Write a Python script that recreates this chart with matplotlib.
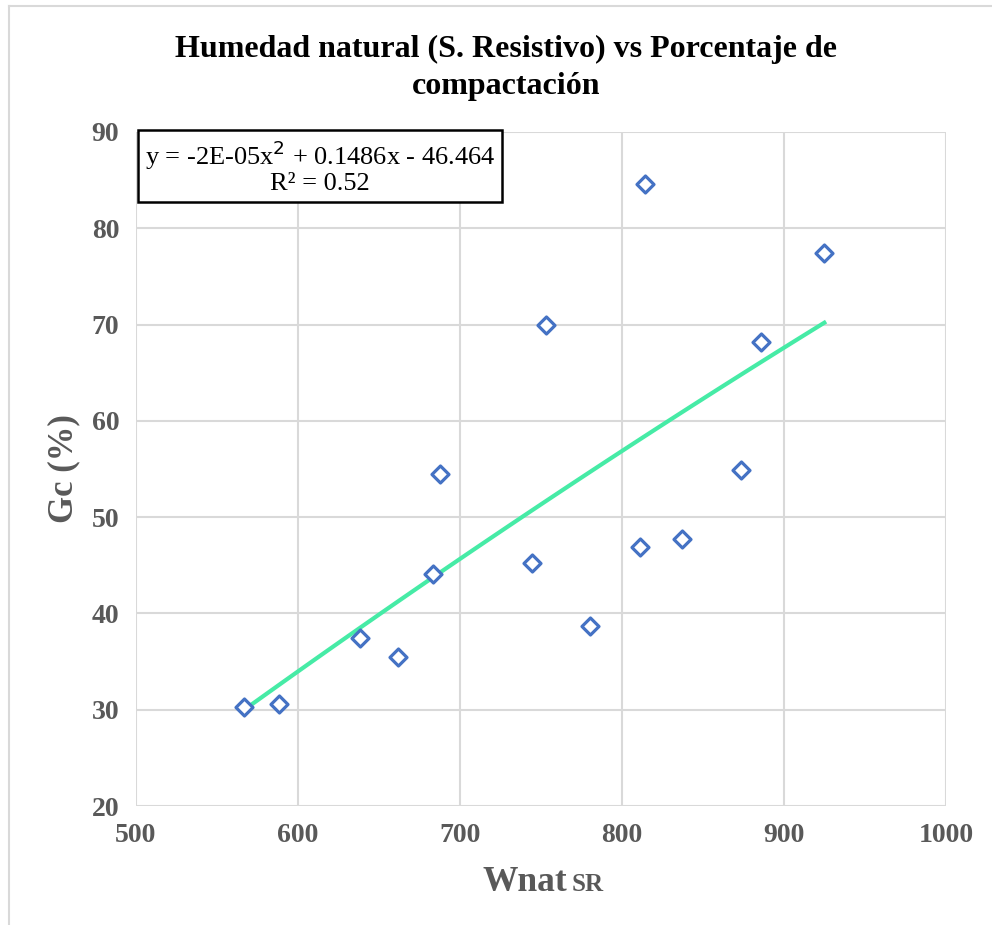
import numpy as np
import matplotlib
matplotlib.use('Agg')
import matplotlib.pyplot as plt
from matplotlib.lines import Line2D

plt.rcParams['font.family'] = ['Liberation Serif', 'DejaVu Serif']

# Data
wnat = [566.7, 588.3, 638.3, 661.7, 683.3, 687.7, 744.4, 753.0,
        780.2, 811.0, 814.2, 837.0, 873.5, 885.8, 924.7]
gc = [30.3, 30.6, 37.4, 35.5, 44.1, 54.5, 45.2, 70.0,
      38.7, 46.9, 84.6, 47.7, 54.9, 68.2, 77.4]

x_ticks = [500, 600, 700, 800, 900, 1000]
y_ticks = [20, 30, 40, 50, 60, 70, 80, 90]

title = 'Humedad natural (S. Resistivo) vs Porcentaje de\ncompactación'
eq_text = 'y = -2E-05x$^2$ + 0.1486x - 46.464\nR² = 0.52'

gray = '#595959'

fig = plt.figure(figsize=(9.92, 9.25), dpi=100)
ax = fig.add_axes([0.137, 0.1286, 0.817, 0.7287])

# Polynomial trendline (order 2)
coef = np.polyfit(wnat, gc, 2)
xs = np.linspace(min(wnat), max(wnat), 100)
ax.plot(xs, np.polyval(coef, xs), color='#46EBA6', lw=3, zorder=2)

ax.scatter(wnat, gc, marker='D', s=75, facecolors='white',
           edgecolors='#4472C4', linewidths=2.3, zorder=3)

ax.set_xlim(500, 1000)
ax.set_ylim(20, 90)
ax.set_xticks(x_ticks)
ax.set_yticks(y_ticks)
ax.grid(True, color='#d9d9d9', lw=1.5, zorder=0)
ax.set_axisbelow(True)
for s in ax.spines.values():
    s.set_visible(False)
ax.tick_params(length=0, labelsize=20, labelcolor=gray, pad=12)
for lbl in ax.get_xticklabels() + ax.get_yticklabels():
    lbl.set_fontweight('bold')

ax.set_ylabel('Gc (%)', fontsize=25, fontweight='bold', color=gray, labelpad=8)
fig.text(0.572, 0.037, 'Wnat', fontsize=25.5, fontweight='bold', color=gray,
         ha='right', va='baseline')
fig.text(0.576, 0.037, 'SR', fontsize=18, fontweight='bold', color=gray,
         ha='left', va='baseline')

fig.text(0.51, 0.962, title, fontsize=23, fontweight='bold', ha='center',
         va='top', linespacing=1.35)

ax.text(0.227, 0.99, eq_text, transform=ax.transAxes, fontsize=19,
        ha='center', va='top', multialignment='center', linespacing=1.05,
        bbox=dict(boxstyle='square,pad=0.25', fc='white', ec='black', lw=1.8),
        zorder=5)

# Chart area border
fig.add_artist(Line2D([0.0095, 0.0095], [0, 0.9935], color='#d9d9d9', lw=1.5,
                      transform=fig.transFigure))
fig.add_artist(Line2D([0.0095, 1], [0.9935, 0.9935], color='#d9d9d9', lw=1.5,
                      transform=fig.transFigure))

fig.savefig('out.png', dpi=100)
